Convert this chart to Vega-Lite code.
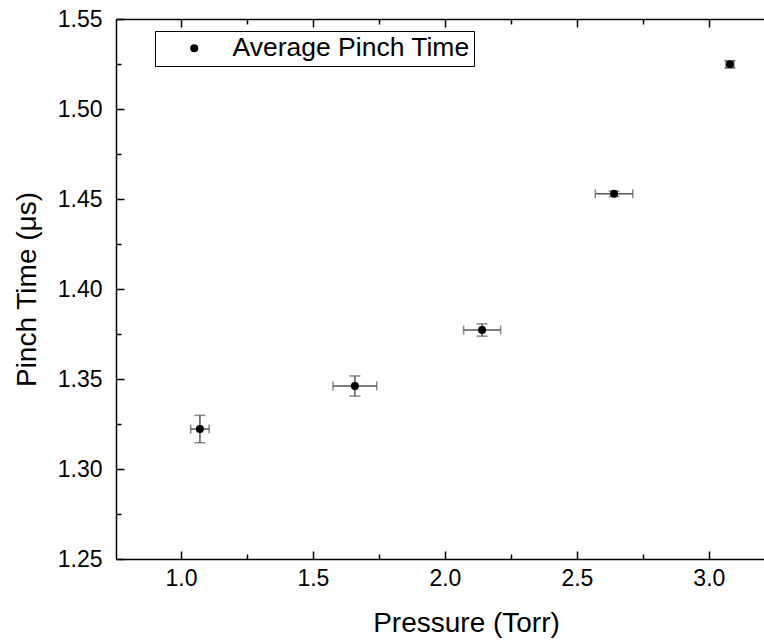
{
  "$schema": "https://vega.github.io/schema/vega-lite/v6.json",
  "width": 700,
  "height": 540,
  "autosize": {"type": "none"},
  "padding": {"left": 116, "top": 19, "right": 0, "bottom": 81},
  "background": "white",
  "config": {
    "view": {"stroke": null},
    "font": "Liberation Sans",
    "axis": {"grid": false, "domainColor": "black", "tickColor": "black", "labelColor": "black", "titleColor": "black", "labelFont": "Liberation Sans", "titleFont": "Liberation Sans", "titleFontWeight": "normal", "domainWidth": 1.5, "tickWidth": 1.5}
  },
  "data": {
    "values": [
      {"p": 1.072, "pe": 0.035, "t": 1.3222, "te": 0.0076},
      {"p": 1.659, "pe": 0.083, "t": 1.3461, "te": 0.0056},
      {"p": 2.141, "pe": 0.070, "t": 1.3772, "te": 0.0034},
      {"p": 2.641, "pe": 0.071, "t": 1.4529, "te": 0.0015},
      {"p": 3.080, "pe": 0.015, "t": 1.5248, "te": 0.0020}
    ]
  },
  "resolve": {"axis": {"x": "independent", "y": "independent"}},
  "layer": [
    {
      "mark": {"type": "errorbar", "ticks": {"size": 11, "color": "#555"}, "color": "#555", "thickness": 1.5},
      "encoding": {
        "x": {"field": "p", "type": "quantitative", "scale": {"domain": [0.754, 3.406], "nice": false, "zero": false},
              "axis": {"orient": "bottom", "values": [1.25, 1.75, 2.25, 2.75, 3.25], "tickSize": -5, "labels": false, "domain": false, "title": null}},
        "y": {"field": "t", "type": "quantitative", "scale": {"domain": [1.25, 1.55], "nice": false, "zero": false},
              "axis": {"orient": "left", "values": [1.275, 1.325, 1.375, 1.425, 1.475, 1.525], "tickSize": -5, "labels": false, "domain": false, "title": null}},
        "yError": {"field": "te"}
      }
    },
    {
      "mark": {"type": "errorbar", "ticks": {"size": 9, "color": "#555"}, "color": "#555", "thickness": 1.5},
      "encoding": {
        "x": {"field": "p", "type": "quantitative",
              "axis": {"orient": "top", "values": [1.0, 1.5, 2.0, 2.5, 3.0], "tickSize": -8, "labels": false, "domain": true, "title": null}},
        "y": {"field": "t", "type": "quantitative", "axis": null},
        "xError": {"field": "pe"}
      }
    },
    {
      "mark": {"type": "point", "opacity": 0},
      "encoding": {
        "x": {"field": "p", "type": "quantitative",
              "axis": {"orient": "top", "values": [1.25, 1.75, 2.25, 2.75, 3.25], "tickSize": -5, "labels": false, "domain": false, "title": null}},
        "y": {"field": "t", "type": "quantitative", "axis": null}
      }
    },
    {
      "mark": {"type": "point", "filled": true, "shape": "circle", "size": 64, "opacity": 1},
      "encoding": {
        "x": {"field": "p", "type": "quantitative",
              "axis": {"orient": "bottom", "values": [1.0, 1.5, 2.0, 2.5, 3.0], "format": ".1f", "tickSize": -8, "labelPadding": 16, "labelFontSize": 23, "title": "Pressure (Torr)", "titleFontSize": 28, "titlePadding": 19}},
        "y": {"field": "t", "type": "quantitative",
              "axis": {"orient": "left", "values": [1.25, 1.3, 1.35, 1.4, 1.45, 1.5, 1.55], "format": ".2f", "tickSize": -8, "labelPadding": 22, "labelFontSize": 23, "title": "Pinch Time (\u03bcs)", "titleFontSize": 28, "titlePadding": 16}},
        "color": {
          "datum": "Average Pinch Time",
          "type": "nominal",
          "scale": {"range": ["black"]},
          "legend": {"orient": "none", "legendX": 39, "legendY": 12, "title": null, "symbolType": "circle", "symbolSize": 64, "symbolFillColor": "black", "symbolStrokeWidth": 0, "labelFontSize": 26.5, "labelFont": "Liberation Sans", "labelColor": "black", "labelLimit": 500, "strokeColor": "black", "fillColor": "white", "padding": 4, "symbolOffset": 22, "labelOffset": 25}
        }
      }
    }
  ]
}
